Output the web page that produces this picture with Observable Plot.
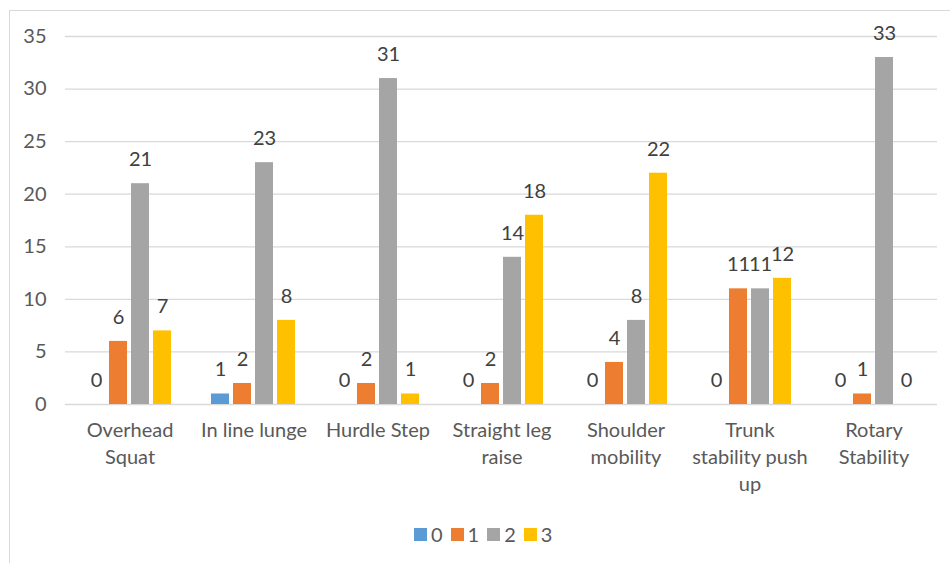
<!DOCTYPE html>
<html><head><meta charset="utf-8">
<script src="https://cdn.jsdelivr.net/npm/d3@7"></script>
<script src="https://cdn.jsdelivr.net/npm/@observablehq/plot@0.6"></script>
<style>
body{margin:0;background:#fff;overflow:hidden;font-family:Lato,sans-serif;width:950px;height:563px;position:relative;}
#frame{position:absolute;left:9px;top:10px;width:1000px;height:600px;border:1px solid #d9d9d9;box-sizing:border-box;}
#grid, #chart{position:absolute;left:0;top:0;}
#legend{position:absolute;left:414px;top:522px;display:flex;font-family:Lato,sans-serif;font-size:20px;color:#595959;line-height:24px;}
#legend .item{display:flex;align-items:center;margin-right:8px;}
#legend .sw{width:13px;height:13px;margin-right:4px;}
</style>
</head><body>
<div id="frame"></div>
<div id="grid"></div>
<div id="chart"></div>
<div id="legend"></div>
<script>
const categories = ["Overhead Squat", "In line lunge", "Hurdle Step", "Straight leg raise", "Shoulder mobility", "Trunk stability push up", "Rotary Stability"];
const tickLabels = ["Overhead\nSquat", "In line lunge", "Hurdle Step", "Straight leg\nraise", "Shoulder\nmobility", "Trunk\nstability push\nup", "Rotary\nStability"];
const seriesNames = ["0", "1", "2", "3"];
const score0 = [0, 1, 0, 0, 0, 0, 0];
const score1 = [6, 2, 2, 2, 4, 11, 1];
const score2 = [21, 23, 31, 14, 8, 11, 33];
const score3 = [7, 8, 1, 18, 22, 12, 0];
const seriesColors = ["#5B9BD5", "#ED7D31", "#A5A5A5", "#FFC000"];
const yTicks = [0, 5, 10, 15, 20, 25, 30, 35];

const seriesValues = [score0, score1, score2, score3];
const rows = [];
categories.forEach((c, i) => {
  seriesNames.forEach((s, j) => rows.push({category: c, series: s, value: seriesValues[j][i]}));
});
const labelOf = new Map(categories.map((c, i) => [c, tickLabels[i]]));

const common = {
  width: 950, height: 510,
  marginLeft: 65, marginRight: 13, marginTop: 36, marginBottom: 106,
  style: {fontFamily: "Lato, sans-serif", fontSize: "20px", color: "#595959", background: "transparent"},
  y: {domain: [0, 35], axis: null}
};

// background: gridlines + y axis spanning the whole plot width
const grid = Plot.plot({
  ...common,
  marks: [
    Plot.ruleY(yTicks, {stroke: "#d9d9d9", strokeWidth: 1.3}),
    Plot.axisY({ticks: yTicks, tickSize: 0, tickPadding: 19, label: null, fill: "#595959"})
  ]
});
document.getElementById("grid").appendChild(grid);

// foreground: grouped bars
const chart = Plot.plot({
  ...common,
  fx: {domain: categories, paddingInner: 0.284, paddingOuter: 0.142, axis: null, label: null},
  x: {domain: seriesNames, paddingInner: 0.18, paddingOuter: 0.09, axis: null},
  color: {domain: seriesNames, range: seriesColors},
  marks: [
    Plot.axisFx({anchor: "bottom", tickSize: 0, tickPadding: 14, label: null, lineHeight: 1.33, tickFormat: d => labelOf.get(d), fill: "#595959"}),
    Plot.barY(rows, {fx: "category", x: "series", y: "value", fill: "series"}),
    Plot.text(rows, {fx: "category", x: "series", y: "value", text: d => String(d.value), dy: -24, fill: "#404040"})
  ]
});
document.getElementById("chart").appendChild(chart);

const legend = document.getElementById("legend");
seriesNames.forEach((s, i) => {
  const item = document.createElement("div");
  item.className = "item";
  const sw = document.createElement("div");
  sw.className = "sw";
  sw.style.background = seriesColors[i];
  const t = document.createElement("span");
  t.textContent = s;
  item.appendChild(sw); item.appendChild(t);
  legend.appendChild(item);
});
</script>
</body></html>
